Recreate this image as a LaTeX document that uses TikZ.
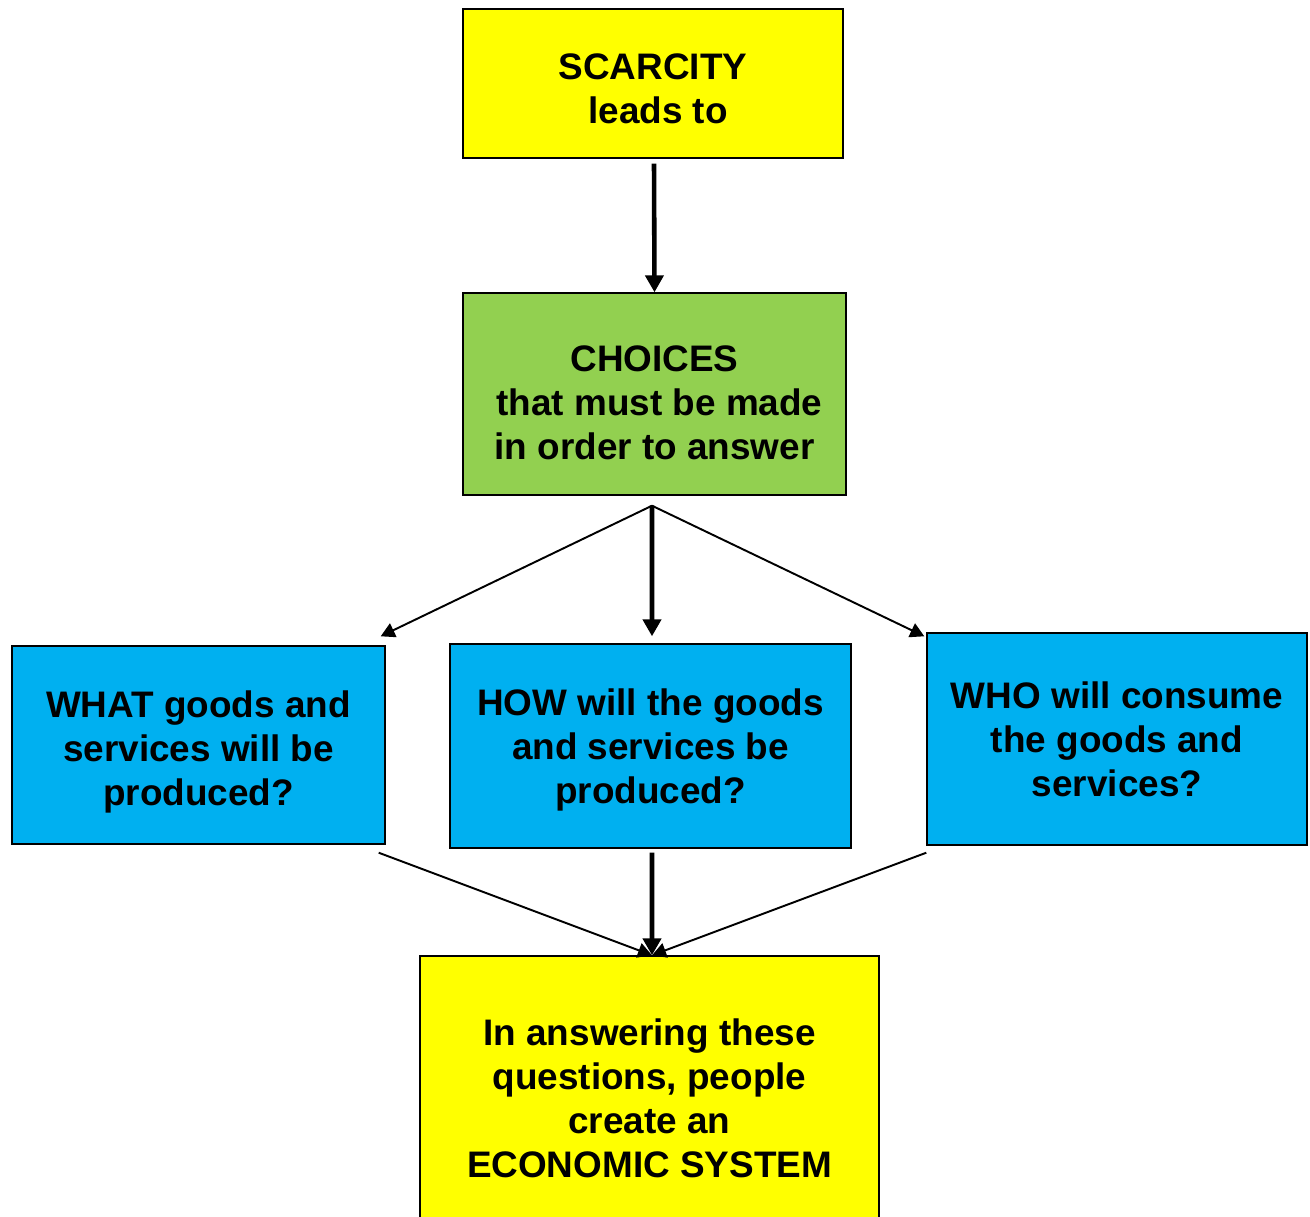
\documentclass[tikz,border=0pt]{standalone}
\usepackage{fontspec}
\setmainfont{Liberation Sans}
\usetikzlibrary{arrows.meta, positioning}
\definecolor{boxyellow}{HTML}{FFFF00}
\definecolor{boxgreen}{HTML}{92D050}
\definecolor{boxblue}{HTML}{00B0F0}
\newcommand{\toppad}[1]{\rule{0pt}{#1}}

\begin{document}
\begin{tikzpicture}[
    qbox/.style={rectangle, draw=black, line width=0.8pt, align=center, inner sep=0pt,
                 font=\fontsize{21}{25}\selectfont\bfseries},
    bigarrow/.style={line width=2.6pt, -{Triangle[length=0.34cm, width=0.36cm]}},
    smallarrow/.style={line width=1.1pt, -{Triangle[length=0.28cm, width=0.3cm]}}
]
\useasboundingbox (0,0) rectangle (26.2,-24.34);

\node[qbox, fill=boxyellow, minimum width=7.6cm, minimum height=2.98cm] (scarcity) at (13.06,-1.67) {\toppad{20.5pt}SCARCITY\\ \hspace*{0.2cm}leads to};
\node[qbox, fill=boxgreen, minimum width=7.66cm, minimum height=4.04cm] (choices) at (13.09,-7.88) {\toppad{24.5pt}CHOICES\\ \hspace*{0.2cm}that must be made\\ in order to answer};

\node[qbox, fill=boxblue, minimum width=7.46cm, minimum height=3.96cm] (what) at (3.97,-14.9) {\toppad{23.5pt}WHAT goods and\\ services will be\\ produced?};
\node[qbox, fill=boxblue, minimum width=8.02cm, minimum height=4.08cm] (how) at (13.01,-14.92) {\toppad{20pt}HOW will the goods\\ and services be\\ produced?};
\node[qbox, fill=boxblue, minimum width=7.6cm, minimum height=4.24cm] (who) at (22.34,-14.78) {WHO will consume\\ the goods and\\ services?};

\node[qbox, fill=boxyellow, minimum width=9.18cm, minimum height=5.68cm] (economy) at (12.99,-21.96) {In answering these\\ questions, people\\ create an\\ ECONOMIC SYSTEM};

\coordinate (fork) at ([xshift=-0.05cm, yshift=-0.2cm]choices.south);
\coordinate (merge) at ([xshift=0.05cm]economy.north);

% scarcity to choices
\draw[bigarrow] ([xshift=0.02cm, yshift=-0.1cm]scarcity.south) -- (choices.north);

% choices to the three questions
\draw[smallarrow] (fork) -- ([xshift=-0.1cm, yshift=0.18cm]what.north east);
\draw[bigarrow] (fork) -- ([xshift=0.03cm, yshift=0.14cm]how.north);
\draw[smallarrow] (fork) -- ([xshift=-0.04cm, yshift=-0.08cm]who.north west);

% questions to economic system
\draw[smallarrow] ([xshift=-0.14cm, yshift=-0.16cm]what.south east) -- (merge);
\draw[bigarrow] ([xshift=0.03cm, yshift=-0.08cm]how.south) -- (merge);
\draw[smallarrow] ([yshift=-0.14cm]who.south west) -- (merge);
\end{tikzpicture}
\end{document}
